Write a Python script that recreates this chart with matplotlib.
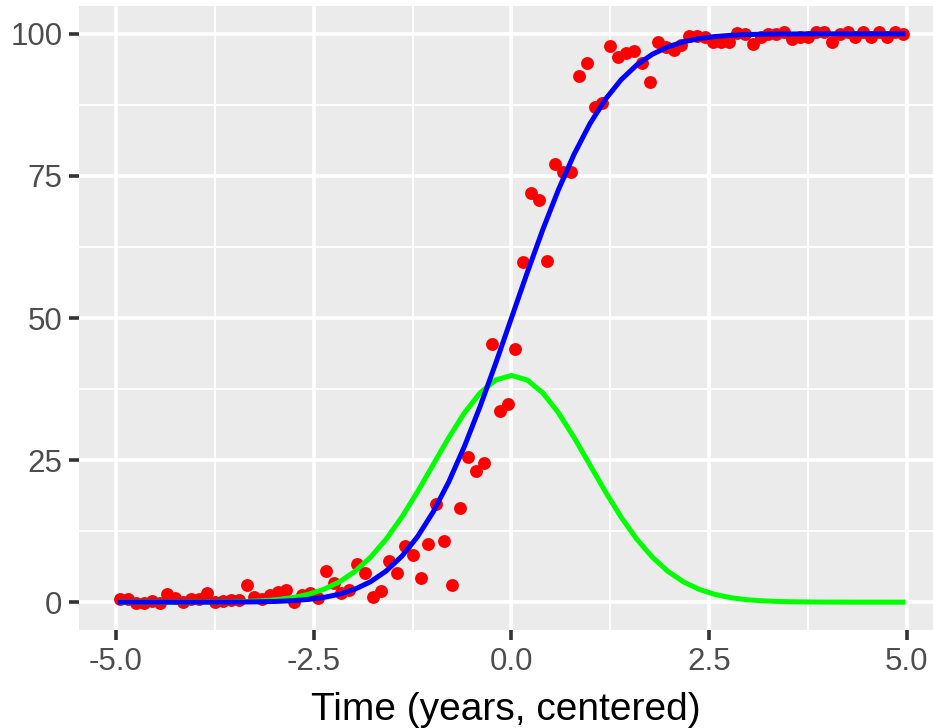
import numpy as np
import matplotlib
matplotlib.use('Agg')
import matplotlib.pyplot as plt

# observed points, x runs -4.95 .. 4.95 in steps of 0.1
obs_y = [0.5, 0.5, -0.2, -0.2, 0.2, -0.2, 1.5, 0.8, 0.0, 0.5,
         0.5, 1.6, 0.0, 0.2, 0.4, 0.4, 3.0, 0.9, 0.6, 1.2,
         1.8, 2.2, 0.0, 1.3, 1.6, 0.7, 5.5, 3.3, 1.6, 2.1,
         6.7, 5.1, 0.9, 2.0, 7.2, 5.1, 9.9, 8.3, 4.2, 10.2,
         17.3, 10.8, 3.0, 16.6, 25.6, 23.0, 24.5, 45.5, 33.6, 34.9,
         44.6, 59.8, 72.0, 70.7, 60.0, 77.1, 75.7, 75.7, 92.6, 94.9,
         87.1, 87.8, 97.9, 95.9, 96.6, 97.0, 94.9, 91.5, 98.6, 97.7,
         97.2, 98.1, 99.6, 99.6, 99.4, 98.5, 98.5, 98.5, 100.2, 100.0,
         98.3, 99.4, 100.0, 100.0, 100.3, 99.1, 99.4, 99.4, 100.4, 100.4,
         98.6, 100.0, 100.4, 99.4, 100.4, 99.4, 100.4, 99.4, 100.4, 100.0]
obs_x = np.round(np.arange(len(obs_y)) * 0.1 - 4.95, 2)

# curves, x runs -4.95 .. 4.95
curve_x = np.round(np.arange(51) * 0.198 - 4.95, 3)
cum_y = [0, 0, 0, 0, 0, 0, 0.01, 0.02, 0.03, 0.07,
         0.13, 0.26, 0.47, 0.82, 1.39, 2.28, 3.59, 5.48, 8.08, 11.51,
         15.87, 21.19, 27.43, 34.46, 42.07, 50.0, 57.93, 65.54, 72.57, 78.81,
         84.13, 88.49, 91.92, 94.52, 96.41, 97.72, 98.61, 99.18, 99.53, 99.74,
         99.87, 99.93, 99.97, 99.98, 99.99, 100, 100, 100, 100, 100, 100]
dens_y = [0, 0, 0, 0, 0.01, 0.01, 0.03, 0.06, 0.12, 0.24,
          0.44, 0.79, 1.36, 2.24, 3.55, 5.40, 7.90, 11.09, 14.97, 19.42,
          24.20, 28.97, 33.32, 36.83, 39.10, 39.89, 39.10, 36.83, 33.32, 28.97,
          24.20, 19.42, 14.97, 11.09, 7.90, 5.40, 3.55, 2.24, 1.36, 0.79,
          0.44, 0.24, 0.12, 0.06, 0.03, 0.01, 0.01, 0, 0, 0, 0]

x_ticks = [-5.0, -2.5, 0.0, 2.5, 5.0]
y_ticks = [0, 25, 50, 75, 100]

plt.rcParams['font.family'] = ['Liberation Sans', 'DejaVu Sans']

fig = plt.figure(figsize=(9.33, 7.28), dpi=100)
ax = fig.add_axes([79/933, 98/728, 1 - 79/933, (630 - 6)/728])
ax.set_facecolor('#EBEBEB')

ax.scatter(obs_x, obs_y, s=86, color='#FF0000', linewidths=0, zorder=3)
ax.plot(curve_x, dens_y, color='#00FF00', lw=3.6, zorder=4)
ax.plot(curve_x, cum_y, color='#0000FF', lw=3.6, zorder=5)

ax.set_xlim(-5.468, 5.33)
ax.set_ylim(-4.9, 104.9)
ax.set_xticks(x_ticks)
ax.set_xticklabels([f'{t:.1f}' for t in x_ticks])
ax.set_yticks(y_ticks)
ax.set_xticks([-3.75, -1.25, 1.25, 3.75], minor=True)
ax.set_yticks([12.5, 37.5, 62.5, 87.5], minor=True)
ax.grid(which='major', color='white', lw=2.6)
ax.grid(which='minor', color='white', lw=1.3)
ax.set_axisbelow(True)
for s in ax.spines.values():
    s.set_visible(False)
ax.tick_params(which='major', length=7, width=2.6, color='#333333',
               labelsize=22.5, labelcolor='#4D4D4D', pad=5)
ax.tick_params(which='minor', length=0)
ax.set_xlabel('Time (years, centered)', fontsize=28, color='black', labelpad=11)

fig.savefig('out.png', dpi=100)
